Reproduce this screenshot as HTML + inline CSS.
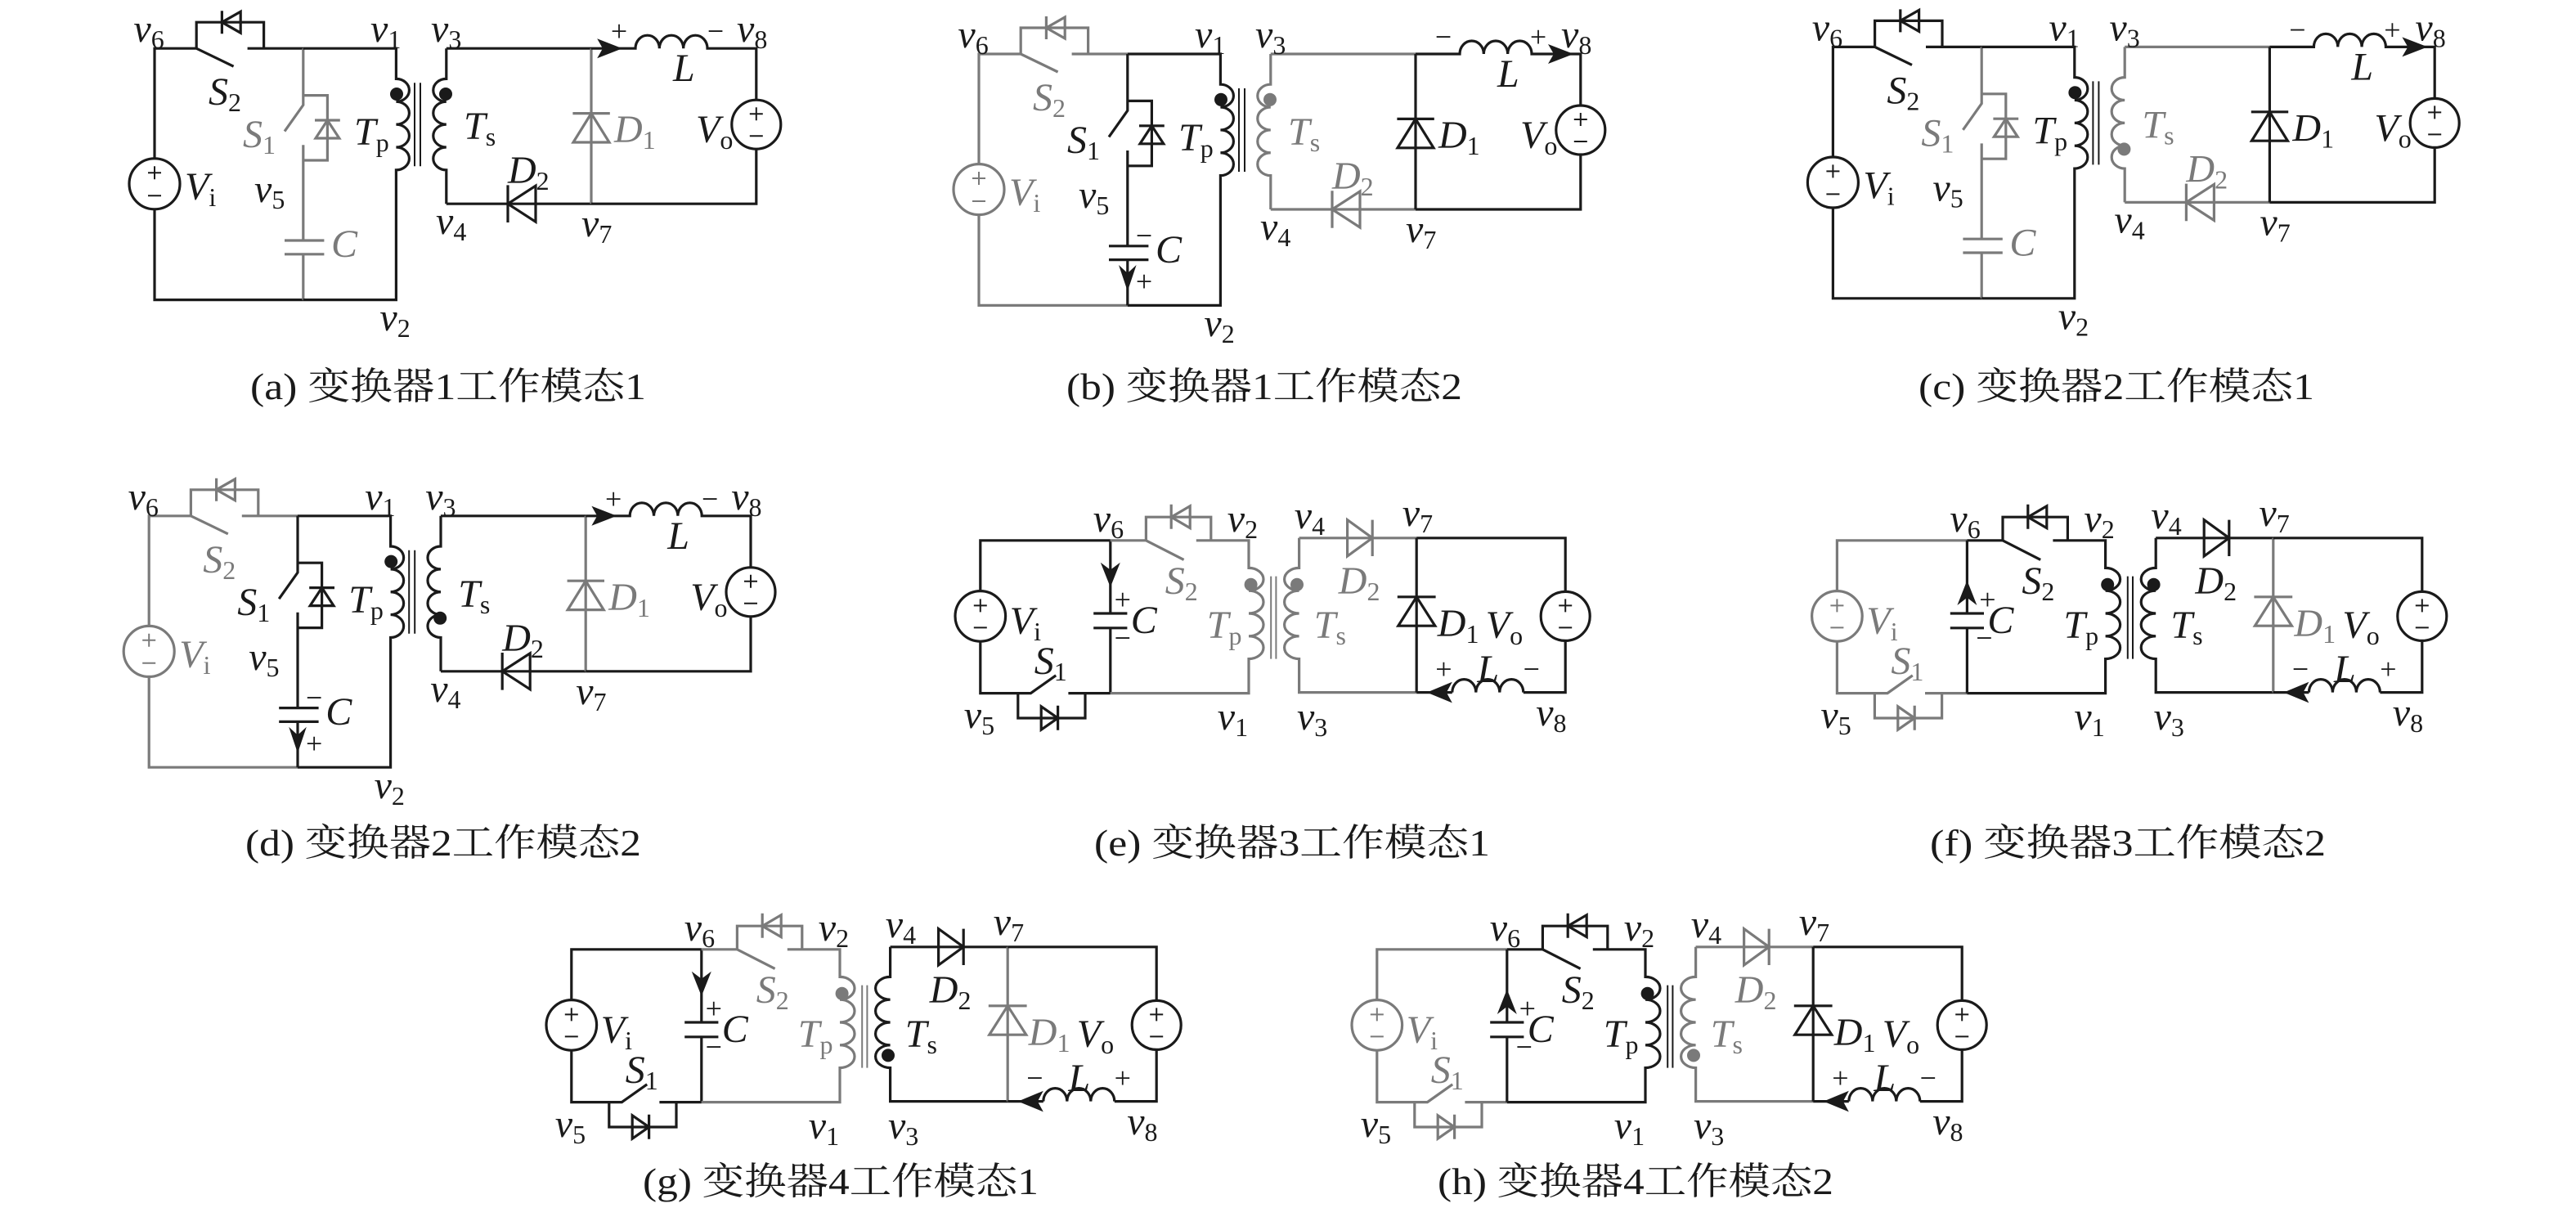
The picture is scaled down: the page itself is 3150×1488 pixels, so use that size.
<!DOCTYPE html>
<html><head><meta charset="utf-8">
<style>
html,body{margin:0;padding:0;background:#fff;}
svg{display:block;}
.k{stroke:#1a1a1a;fill:none;stroke-width:1.6;}
.g{stroke:#7a7a7a;fill:none;stroke-width:1.6;}
.kf{fill:#1a1a1a;stroke:none;}
.gf{fill:#7a7a7a;stroke:none;}
.th{stroke-width:1;}
text{font-family:"Liberation Serif",serif;font-style:italic;font-size:24px;fill:#1a1a1a;}
text.tg{fill:#7a7a7a;}
.s{font-style:normal;font-size:16px;}
text.sg{font-style:normal;font-size:18px;text-anchor:middle;}
text.cap{font-family:"Liberation Serif","Noto Serif CJK SC",serif;font-style:normal;font-size:23px;text-anchor:middle;}
</style></head><body>
<svg width="3150" height="1488" viewBox="0 0 1575 744" xmlns="http://www.w3.org/2000/svg">
<rect width="1575" height="744" fill="#fff"/>

<!-- ===== (a) ===== -->
<g transform="translate(94.5,29.6)">
<path class="k" d="M0,67.3V0H25.6L48.3,11M56.8,0H90.9M0,98.3V153.7H90.9M25.6,0V-16H66.8V0M41.2,-23V-9"/>
<polygon class="k" points="41.2,-16 52.6,-22.5 52.6,-9.5"/>
<circle class="k" cx="0" cy="82.8" r="15.5"/>
<path class="k th" d="M-4,76H4M0,72V80M-4,90H4"/>
<path class="g" d="M90.9,0V34.6L79.5,50.7M90.9,28.7H105.7V68.4H90.9M90.9,59V117.4M79.5,117.4H103.7M79.5,125.8H103.7M90.9,125.8V153.7M98,43.9H113.4"/>
<polygon class="g" points="105.7,43.9 98.5,54.9 112.9,54.9"/>
<path class="k" d="M90.9,0H147.7V18.6a8,6.96 0 0 1 0,13.93a8,6.96 0 0 1 0,13.93a8,6.96 0 0 1 0,13.93a8,6.96 0 0 1 0,13.93V153.7H90.9"/>
<path class="k th" d="M159,21V72M162.5,21V72"/>
<circle class="kf" cx="148" cy="27.9" r="4"/>
<path class="k" d="M178.4,0V18.6a8,6.96 0 0 0 0,13.93a8,6.96 0 0 0 0,13.93a8,6.96 0 0 0 0,13.93a8,6.96 0 0 0 0,13.93V95"/>
<circle class="kf" cx="178" cy="27.9" r="4"/>
<path class="k" d="M178.4,0H267"/>
<path class="k" d="M178.4,95H267M216,83.6V106.4"/><polygon class="k" points="216,95 233,84 233,106"/>
<path class="g" d="M267,0V95M255.7,39.7H278.4"/><polygon class="g" points="267,39.7 256,57.4 278,57.4"/>
<path class="k" d="M267,0H294a7.33,8 0 0 1 14.67,0a7.33,8 0 0 1 14.67,0a7.33,8 0 0 1 14.67,0H367.9V31.5M367.9,61.5V95H267"/>
<circle class="k" cx="367.9" cy="46.5" r="15"/>
<path class="k th" d="M363.9,40H371.9M367.9,36V44M363.9,53.5H371.9"/>
<polygon class="kf" points="286,0 270.6,-6 274,0 270.6,6"/>
<text x="-12.8" y="-4">v<tspan class="s" dy="4">6</tspan></text>
<text x="132" y="-4">v<tspan class="s" dy="4">1</tspan></text>
<text x="169" y="-4">v<tspan class="s" dy="4">3</tspan></text>
<text x="356" y="-4">v<tspan class="s" dy="4">8</tspan></text>
<text x="33" y="34.5">S<tspan class="s" dy="4">2</tspan></text>
<text class="tg" x="54" y="60.5">S<tspan class="s" dy="4">1</tspan></text>
<text x="122" y="59">T<tspan class="s" dy="4">p</tspan></text>
<text x="189" y="55.5">T<tspan class="s" dy="4">s</tspan></text>
<text x="18.5" y="92.5">V<tspan class="s" dy="4">i</tspan></text>
<text x="61" y="94">v<tspan class="s" dy="4">5</tspan></text>
<text class="tg" x="108" y="127.5">C</text>
<text x="216" y="82.5">D<tspan class="s" dy="4">2</tspan></text>
<text class="tg" x="281" y="57.5">D<tspan class="s" dy="4">1</tspan></text>
<text x="331" y="57.5">V<tspan class="s" dy="4">o</tspan></text>
<text x="317" y="20">L</text>
<text x="172" y="113.5">v<tspan class="s" dy="4">4</tspan></text>
<text x="261" y="115">v<tspan class="s" dy="4">7</tspan></text>
<text x="137.7" y="172.5">v<tspan class="s" dy="4">2</tspan></text>
<text class="sg" x="284" y="-4.5">+</text><text class="sg" x="343" y="-4.5">−</text>
</g>

<!-- ===== (b) ===== -->
<g transform="translate(598.5,33)">
<path class="g" d="M0,67.3V0H25.6L48.3,11M56.8,0H90.9M0,98.3V153.7H90.9M25.6,0V-16H66.8V0M41.2,-23V-9"/>
<polygon class="g" points="41.2,-16 52.6,-22.5 52.6,-9.5"/>
<circle class="g" cx="0" cy="82.8" r="15.5"/>
<path class="g th" d="M-4,76H4M0,72V80M-4,90H4"/>
<path class="k" d="M90.9,0V34.6L79.5,50.7M90.9,28.7H105.7V68.4H90.9M90.9,59V117.4M79.5,117.4H103.7M79.5,125.8H103.7M90.9,125.8V153.7M98,43.9H113.4"/>
<polygon class="k" points="105.7,43.9 98.5,54.9 112.9,54.9"/>
<polygon class="kf" points="85.5,129 90.9,145 96.3,129 90.9,134"/>
<path class="k" d="M90.9,0H147.7V18.6a8,6.96 0 0 1 0,13.93a8,6.96 0 0 1 0,13.93a8,6.96 0 0 1 0,13.93a8,6.96 0 0 1 0,13.93V153.7H90.9"/>
<path class="k th" d="M159,21V72M162.5,21V72"/>
<circle class="kf" cx="148" cy="27.9" r="4"/>
<path class="g" d="M178.4,0V18.6a8,6.96 0 0 0 0,13.93a8,6.96 0 0 0 0,13.93a8,6.96 0 0 0 0,13.93a8,6.96 0 0 0 0,13.93V95"/>
<circle class="gf" cx="178" cy="27.9" r="4"/>
<path class="g" d="M178.4,0H267"/>
<path class="g" d="M178.4,95H267M216,83.6V106.4"/><polygon class="g" points="216,95 233,84 233,106"/>
<path class="k" d="M267,0V95M255.7,39.7H278.4"/><polygon class="k" points="267,39.7 256,57.4 278,57.4"/>
<path class="k" d="M267,0H294a7.33,8 0 0 1 14.67,0a7.33,8 0 0 1 14.67,0a7.33,8 0 0 1 14.67,0H367.9V31.5M367.9,61.5V95H267"/>
<circle class="k" cx="367.9" cy="46.5" r="15"/>
<path class="k th" d="M363.9,40H371.9M367.9,36V44M363.9,53.5H371.9"/>
<polygon class="kf" points="363.6,0 348,-6 351.5,0 348,6"/>
<text x="-12.8" y="-4">v<tspan class="s" dy="4">6</tspan></text>
<text x="132" y="-4">v<tspan class="s" dy="4">1</tspan></text>
<text x="169" y="-4">v<tspan class="s" dy="4">3</tspan></text>
<text x="356" y="-4">v<tspan class="s" dy="4">8</tspan></text>
<text class="tg" x="33" y="34.5">S<tspan class="s" dy="4">2</tspan></text>
<text x="54" y="60.5">S<tspan class="s" dy="4">1</tspan></text>
<text x="122" y="59">T<tspan class="s" dy="4">p</tspan></text>
<text class="tg" x="189" y="55.5">T<tspan class="s" dy="4">s</tspan></text>
<text class="tg" x="18.5" y="92.5">V<tspan class="s" dy="4">i</tspan></text>
<text x="61" y="94">v<tspan class="s" dy="4">5</tspan></text>
<text x="108" y="127.5">C</text>
<text class="sg" x="101" y="117">−</text><text class="sg" x="101" y="145">+</text>
<text class="tg" x="216" y="82.5">D<tspan class="s" dy="4">2</tspan></text>
<text x="281" y="57.5">D<tspan class="s" dy="4">1</tspan></text>
<text x="331" y="57.5">V<tspan class="s" dy="4">o</tspan></text>
<text x="317" y="20">L</text>
<text x="172" y="113.5">v<tspan class="s" dy="4">4</tspan></text>
<text x="261" y="115">v<tspan class="s" dy="4">7</tspan></text>
<text x="137.7" y="172.5">v<tspan class="s" dy="4">2</tspan></text>
<text class="sg" x="284" y="-4.5">−</text><text class="sg" x="342" y="-4.5">+</text>
</g>

<!-- ===== (c) ===== -->
<g transform="translate(1120.7,28.7)">
<path class="k" d="M0,67.3V0H25.6L48.3,11M56.8,0H90.9M0,98.3V153.7H90.9M25.6,0V-16H66.8V0M41.2,-23V-9"/>
<polygon class="k" points="41.2,-16 52.6,-22.5 52.6,-9.5"/>
<circle class="k" cx="0" cy="82.8" r="15.5"/>
<path class="k th" d="M-4,76H4M0,72V80M-4,90H4"/>
<path class="g" d="M90.9,0V34.6L79.5,50.7M90.9,28.7H105.7V68.4H90.9M90.9,59V117.4M79.5,117.4H103.7M79.5,125.8H103.7M90.9,125.8V153.7M98,43.9H113.4"/>
<polygon class="g" points="105.7,43.9 98.5,54.9 112.9,54.9"/>
<path class="k" d="M90.9,0H147.7V18.6a8,6.96 0 0 1 0,13.93a8,6.96 0 0 1 0,13.93a8,6.96 0 0 1 0,13.93a8,6.96 0 0 1 0,13.93V153.7H90.9"/>
<path class="k th" d="M159,21V72M162.5,21V72"/>
<circle class="kf" cx="148" cy="27.9" r="4"/>
<path class="g" d="M178.4,0V18.6a8,6.96 0 0 0 0,13.93a8,6.96 0 0 0 0,13.93a8,6.96 0 0 0 0,13.93a8,6.96 0 0 0 0,13.93V95"/>
<circle class="gf" cx="178" cy="62.5" r="4"/>
<path class="g" d="M178.4,0H267"/>
<path class="g" d="M178.4,95H267M216,83.6V106.4"/><polygon class="g" points="216,95 233,84 233,106"/>
<path class="k" d="M267,0V95M255.7,39.7H278.4"/><polygon class="k" points="267,39.7 256,57.4 278,57.4"/>
<path class="k" d="M267,0H294a7.33,8 0 0 1 14.67,0a7.33,8 0 0 1 14.67,0a7.33,8 0 0 1 14.67,0H367.9V31.5M367.9,61.5V95H267"/>
<circle class="k" cx="367.9" cy="46.5" r="15"/>
<path class="k th" d="M363.9,40H371.9M367.9,36V44M363.9,53.5H371.9"/>
<polygon class="kf" points="363.6,0 348,-6 351.5,0 348,6"/>
<text x="-12.8" y="-4">v<tspan class="s" dy="4">6</tspan></text>
<text x="132" y="-4">v<tspan class="s" dy="4">1</tspan></text>
<text x="169" y="-4">v<tspan class="s" dy="4">3</tspan></text>
<text x="356" y="-4">v<tspan class="s" dy="4">8</tspan></text>
<text x="33" y="34.5">S<tspan class="s" dy="4">2</tspan></text>
<text class="tg" x="54" y="60.5">S<tspan class="s" dy="4">1</tspan></text>
<text x="122" y="59">T<tspan class="s" dy="4">p</tspan></text>
<text class="tg" x="189" y="55.5">T<tspan class="s" dy="4">s</tspan></text>
<text x="18.5" y="92.5">V<tspan class="s" dy="4">i</tspan></text>
<text x="61" y="94">v<tspan class="s" dy="4">5</tspan></text>
<text class="tg" x="108" y="127.5">C</text>
<text class="tg" x="216" y="82.5">D<tspan class="s" dy="4">2</tspan></text>
<text x="281" y="57.5">D<tspan class="s" dy="4">1</tspan></text>
<text x="331" y="57.5">V<tspan class="s" dy="4">o</tspan></text>
<text x="317" y="20">L</text>
<text x="172" y="113.5">v<tspan class="s" dy="4">4</tspan></text>
<text x="261" y="115">v<tspan class="s" dy="4">7</tspan></text>
<text x="137.7" y="172.5">v<tspan class="s" dy="4">2</tspan></text>
<text class="sg" x="284" y="-4.5">−</text><text class="sg" x="342" y="-4.5">+</text>
</g>

<!-- ===== (d) ===== -->
<g transform="translate(91.1,315.4)">
<path class="g" d="M0,67.3V0H25.6L48.3,11M56.8,0H90.9M0,98.3V153.7H90.9M25.6,0V-16H66.8V0M41.2,-23V-9"/>
<polygon class="g" points="41.2,-16 52.6,-22.5 52.6,-9.5"/>
<circle class="g" cx="0" cy="82.8" r="15.5"/>
<path class="g th" d="M-4,76H4M0,72V80M-4,90H4"/>
<path class="k" d="M90.9,0V34.6L79.5,50.7M90.9,28.7H105.7V68.4H90.9M90.9,59V117.4M79.5,117.4H103.7M79.5,125.8H103.7M90.9,125.8V153.7M98,43.9H113.4"/>
<polygon class="k" points="105.7,43.9 98.5,54.9 112.9,54.9"/>
<polygon class="kf" points="85.5,129 90.9,145 96.3,129 90.9,134"/>
<path class="k" d="M90.9,0H147.7V18.6a8,6.96 0 0 1 0,13.93a8,6.96 0 0 1 0,13.93a8,6.96 0 0 1 0,13.93a8,6.96 0 0 1 0,13.93V153.7H90.9"/>
<path class="k th" d="M159,21V72M162.5,21V72"/>
<circle class="kf" cx="148" cy="27.9" r="4"/>
<path class="k" d="M178.4,0V18.6a8,6.96 0 0 0 0,13.93a8,6.96 0 0 0 0,13.93a8,6.96 0 0 0 0,13.93a8,6.96 0 0 0 0,13.93V95"/>
<circle class="kf" cx="178" cy="62.5" r="4"/>
<path class="k" d="M178.4,0H267"/>
<path class="k" d="M178.4,95H267M216,83.6V106.4"/><polygon class="k" points="216,95 233,84 233,106"/>
<path class="g" d="M267,0V95M255.7,39.7H278.4"/><polygon class="g" points="267,39.7 256,57.4 278,57.4"/>
<path class="k" d="M267,0H294a7.33,8 0 0 1 14.67,0a7.33,8 0 0 1 14.67,0a7.33,8 0 0 1 14.67,0H367.9V31.5M367.9,61.5V95H267"/>
<circle class="k" cx="367.9" cy="46.5" r="15"/>
<path class="k th" d="M363.9,40H371.9M367.9,36V44M363.9,53.5H371.9"/>
<polygon class="kf" points="286,0 270.6,-6 274,0 270.6,6"/>
<text x="-12.8" y="-4">v<tspan class="s" dy="4">6</tspan></text>
<text x="132" y="-4">v<tspan class="s" dy="4">1</tspan></text>
<text x="169" y="-4">v<tspan class="s" dy="4">3</tspan></text>
<text x="356" y="-4">v<tspan class="s" dy="4">8</tspan></text>
<text class="tg" x="33" y="34.5">S<tspan class="s" dy="4">2</tspan></text>
<text x="54" y="60.5">S<tspan class="s" dy="4">1</tspan></text>
<text x="122" y="59">T<tspan class="s" dy="4">p</tspan></text>
<text x="189" y="55.5">T<tspan class="s" dy="4">s</tspan></text>
<text class="tg" x="18.5" y="92.5">V<tspan class="s" dy="4">i</tspan></text>
<text x="61" y="94">v<tspan class="s" dy="4">5</tspan></text>
<text x="108" y="127.5">C</text>
<text class="sg" x="101" y="117">−</text><text class="sg" x="101" y="145">+</text>
<text x="216" y="82.5">D<tspan class="s" dy="4">2</tspan></text>
<text class="tg" x="281" y="57.5">D<tspan class="s" dy="4">1</tspan></text>
<text x="331" y="57.5">V<tspan class="s" dy="4">o</tspan></text>
<text x="317" y="20">L</text>
<text x="172" y="113.5">v<tspan class="s" dy="4">4</tspan></text>
<text x="261" y="115">v<tspan class="s" dy="4">7</tspan></text>
<text x="137.7" y="172.5">v<tspan class="s" dy="4">2</tspan></text>
<text class="sg" x="284" y="-4.5">+</text><text class="sg" x="343" y="-4.5">−</text>
</g>

<!-- ===== (e) ===== -->
<g transform="translate(599.4,330.4)">
<path class="k" d="M0,30.9V0H79.5M0,61.7V93.4H30.8L46.2,82.5M53.8,93.4H79.5M23,93.4V108.6H64.1V93.4M47.4,101V116"/>
<polygon class="k" points="37.2,101.5 37.2,115.7 47.4,108.6"/>
<circle class="k" cx="0" cy="46.3" r="15.4"/>
<path class="k th" d="M-4,39.8H4M0,35.8V43.8M-4,53.3H4"/>
<path class="k" d="M79.5,0V44.6M79.5,53.5V93.4M69.2,44.6H89.8M69.2,53.5H89.8"/>
<polygon class="kf" points="73.5,13.5 79.5,28.6 85.5,13.5 79.5,18"/>
<path class="g" d="M79.5,0H101.3L124.4,11.8M132,0H164.1V16.8a9,6.95 0 0 1 0,13.9a9,6.95 0 0 1 0,13.9a9,6.95 0 0 1 0,13.9a9,6.95 0 0 1 0,13.9V93.4H79.5M101.3,0V-14.3H141V0M116.7,-22V-7"/>
<polygon class="g" points="116.7,-14.3 128.2,-21 128.2,-7.6"/>
<path class="g th" d="M177.7,21.9V72.4M180.8,21.9V72.4"/>
<circle class="gf" cx="165.4" cy="27" r="4"/>
<path class="g" d="M194.9,-1.5V16.8a9,6.95 0 0 0 0,13.9a9,6.95 0 0 0 0,13.9a9,6.95 0 0 0 0,13.9a9,6.95 0 0 0 0,13.9V92.9H266.7M194.9,-1.5H266.7M239.7,-12.6V9.6"/>
<polygon class="g" points="224.4,-12.6 224.4,9.6 239.7,-1.5"/>
<circle class="gf" cx="193.6" cy="27" r="4"/>
<path class="k" d="M266.7,-1.5V92.9M255,34.5H278.4"/><polygon class="k" points="266.7,34.5 255.5,52.2 278,52.2"/>
<path class="k" d="M266.7,-1.5H357.7V31.3M357.7,61.3V92.9H332M288.5,92.9a7.25,8 0 0 1 14.5,0a7.25,8 0 0 1 14.5,0a7.25,8 0 0 1 14.5,0M266.7,92.9H288.5"/>
<circle class="k" cx="357.7" cy="46.3" r="15"/>
<path class="k th" d="M353.7,39.8H361.7M357.7,35.8V43.8M353.7,53.3H361.7"/>
<polygon class="kf" points="273,92.9 288.5,86.5 285,92.9 288.5,99.3"/>
<text x="69" y="-5.5">v<tspan class="s" dy="4">6</tspan></text>
<text x="151" y="-5.5">v<tspan class="s" dy="4">2</tspan></text>
<text x="192" y="-7.5">v<tspan class="s" dy="4">4</tspan></text>
<text x="258" y="-9">v<tspan class="s" dy="4">7</tspan></text>
<text class="tg" x="113" y="32.5">S<tspan class="s" dy="4">2</tspan></text>
<text class="tg" x="138.5" y="59.5">T<tspan class="s" dy="4">p</tspan></text>
<text class="tg" x="204" y="59.5">T<tspan class="s" dy="4">s</tspan></text>
<text class="tg" x="219" y="32.5">D<tspan class="s" dy="4">2</tspan></text>
<text x="279.5" y="58.5">D<tspan class="s" dy="4">1</tspan></text>
<text x="309" y="59.5">V<tspan class="s" dy="4">o</tspan></text>
<text x="18" y="57">V<tspan class="s" dy="4">i</tspan></text>
<text x="92" y="56.5">C</text>
<text class="sg" x="87" y="42">+</text><text class="sg" x="87" y="65.5">−</text>
<text x="33" y="81.5">S<tspan class="s" dy="4">1</tspan></text>
<text x="303.8" y="86.5">L</text>
<text class="sg" x="283.3" y="84.5">+</text><text class="sg" x="337" y="84.5">−</text>
<text x="-10" y="114.5">v<tspan class="s" dy="4">5</tspan></text>
<text x="145" y="115.5">v<tspan class="s" dy="4">1</tspan></text>
<text x="193.6" y="115.5">v<tspan class="s" dy="4">3</tspan></text>
<text x="339.7" y="113">v<tspan class="s" dy="4">8</tspan></text>
</g>

<!-- ===== (f) ===== -->
<g transform="translate(1123.2,330.4)">
<path class="g" d="M0,30.9V0H79.5M0,61.7V93.4H30.8L46.2,82.5M53.8,93.4H79.5M23,93.4V108.6H64.1V93.4M47.4,101V116"/>
<polygon class="g" points="37.2,101.5 37.2,115.7 47.4,108.6"/>
<circle class="g" cx="0" cy="46.3" r="15.4"/>
<path class="g th" d="M-4,39.8H4M0,35.8V43.8M-4,53.3H4"/>
<path class="k" d="M79.5,0V44.6M79.5,53.5V93.4M69.2,44.6H89.8M69.2,53.5H89.8"/>
<polygon class="kf" points="73.5,39.6 79.5,24.4 85.5,39.6 79.5,35"/>
<path class="k" d="M79.5,0H101.3L124.4,11.8M132,0H164.1V16.8a9,6.95 0 0 1 0,13.9a9,6.95 0 0 1 0,13.9a9,6.95 0 0 1 0,13.9a9,6.95 0 0 1 0,13.9V93.4H79.5M101.3,0V-14.3H141V0M116.7,-22V-7"/>
<polygon class="k" points="116.7,-14.3 128.2,-21 128.2,-7.6"/>
<path class="k th" d="M177.7,21.9V72.4M180.8,21.9V72.4"/>
<circle class="kf" cx="165.4" cy="27" r="4"/>
<path class="k" d="M194.9,-1.5V16.8a9,6.95 0 0 0 0,13.9a9,6.95 0 0 0 0,13.9a9,6.95 0 0 0 0,13.9a9,6.95 0 0 0 0,13.9V92.9H266.7M194.9,-1.5H266.7M239.7,-12.6V9.6"/>
<polygon class="k" points="224.4,-12.6 224.4,9.6 239.7,-1.5"/>
<circle class="kf" cx="193.6" cy="27" r="4"/>
<path class="g" d="M266.7,-1.5V92.9M255,34.5H278.4"/><polygon class="g" points="266.7,34.5 255.5,52.2 278,52.2"/>
<path class="k" d="M266.7,-1.5H357.7V31.3M357.7,61.3V92.9H332M288.5,92.9a7.25,8 0 0 1 14.5,0a7.25,8 0 0 1 14.5,0a7.25,8 0 0 1 14.5,0M266.7,92.9H288.5"/>
<circle class="k" cx="357.7" cy="46.3" r="15"/>
<path class="k th" d="M353.7,39.8H361.7M357.7,35.8V43.8M353.7,53.3H361.7"/>
<polygon class="kf" points="273,92.9 288.5,86.5 285,92.9 288.5,99.3"/>
<text x="69" y="-5.5">v<tspan class="s" dy="4">6</tspan></text>
<text x="151" y="-5.5">v<tspan class="s" dy="4">2</tspan></text>
<text x="192" y="-7.5">v<tspan class="s" dy="4">4</tspan></text>
<text x="258" y="-9">v<tspan class="s" dy="4">7</tspan></text>
<text x="113" y="32.5">S<tspan class="s" dy="4">2</tspan></text>
<text x="138.5" y="59.5">T<tspan class="s" dy="4">p</tspan></text>
<text x="204" y="59.5">T<tspan class="s" dy="4">s</tspan></text>
<text x="219" y="32.5">D<tspan class="s" dy="4">2</tspan></text>
<text class="tg" x="279.5" y="58.5">D<tspan class="s" dy="4">1</tspan></text>
<text x="309" y="59.5">V<tspan class="s" dy="4">o</tspan></text>
<text class="tg" x="18" y="57">V<tspan class="s" dy="4">i</tspan></text>
<text x="92" y="56.5">C</text>
<text class="sg" x="92" y="42">+</text><text class="sg" x="90" y="65.5">−</text>
<text class="tg" x="33" y="81.5">S<tspan class="s" dy="4">1</tspan></text>
<text x="303.8" y="86.5">L</text>
<text class="sg" x="283.3" y="84.5">−</text><text class="sg" x="337" y="84.5">+</text>
<text x="-10" y="114.5">v<tspan class="s" dy="4">5</tspan></text>
<text x="145" y="115.5">v<tspan class="s" dy="4">1</tspan></text>
<text x="193.6" y="115.5">v<tspan class="s" dy="4">3</tspan></text>
<text x="339.7" y="113">v<tspan class="s" dy="4">8</tspan></text>
</g>

<!-- ===== (g) ===== -->
<g transform="translate(349.4,580.4)">
<path class="k" d="M0,30.9V0H79.5M0,61.7V93.4H30.8L46.2,82.5M53.8,93.4H79.5M23,93.4V108.6H64.1V93.4M47.4,101V116"/>
<polygon class="k" points="37.2,101.5 37.2,115.7 47.4,108.6"/>
<circle class="k" cx="0" cy="46.3" r="15.4"/>
<path class="k th" d="M-4,39.8H4M0,35.8V43.8M-4,53.3H4"/>
<path class="k" d="M79.5,0V44.6M79.5,53.5V93.4M69.2,44.6H89.8M69.2,53.5H89.8"/>
<polygon class="kf" points="73.5,13.5 79.5,28.6 85.5,13.5 79.5,18"/>
<path class="g" d="M79.5,0H101.3L124.4,11.8M132,0H164.1V16.8a9,6.95 0 0 1 0,13.9a9,6.95 0 0 1 0,13.9a9,6.95 0 0 1 0,13.9a9,6.95 0 0 1 0,13.9V93.4H79.5M101.3,0V-14.3H141V0M116.7,-22V-7"/>
<polygon class="g" points="116.7,-14.3 128.2,-21 128.2,-7.6"/>
<path class="g th" d="M177.7,21.9V72.4M180.8,21.9V72.4"/>
<circle class="gf" cx="165.4" cy="27" r="4"/>
<path class="k" d="M194.9,-1.5V16.8a9,6.95 0 0 0 0,13.9a9,6.95 0 0 0 0,13.9a9,6.95 0 0 0 0,13.9a9,6.95 0 0 0 0,13.9V92.9H266.7M194.9,-1.5H266.7M239.7,-12.6V9.6"/>
<polygon class="k" points="224.4,-12.6 224.4,9.6 239.7,-1.5"/>
<circle class="kf" cx="193.6" cy="64.8" r="4"/>
<path class="g" d="M266.7,-1.5V92.9M255,34.5H278.4"/><polygon class="g" points="266.7,34.5 255.5,52.2 278,52.2"/>
<path class="k" d="M266.7,-1.5H357.7V31.3M357.7,61.3V92.9H332M288.5,92.9a7.25,8 0 0 1 14.5,0a7.25,8 0 0 1 14.5,0a7.25,8 0 0 1 14.5,0M266.7,92.9H288.5"/>
<circle class="k" cx="357.7" cy="46.3" r="15"/>
<path class="k th" d="M353.7,39.8H361.7M357.7,35.8V43.8M353.7,53.3H361.7"/>
<polygon class="kf" points="273,92.9 288.5,86.5 285,92.9 288.5,99.3"/>
<text x="69" y="-5.5">v<tspan class="s" dy="4">6</tspan></text>
<text x="151" y="-5.5">v<tspan class="s" dy="4">2</tspan></text>
<text x="192" y="-7.5">v<tspan class="s" dy="4">4</tspan></text>
<text x="258" y="-9">v<tspan class="s" dy="4">7</tspan></text>
<text class="tg" x="113" y="32.5">S<tspan class="s" dy="4">2</tspan></text>
<text class="tg" x="138.5" y="59.5">T<tspan class="s" dy="4">p</tspan></text>
<text x="204" y="59.5">T<tspan class="s" dy="4">s</tspan></text>
<text x="219" y="32.5">D<tspan class="s" dy="4">2</tspan></text>
<text class="tg" x="279.5" y="58.5">D<tspan class="s" dy="4">1</tspan></text>
<text x="309" y="59.5">V<tspan class="s" dy="4">o</tspan></text>
<text x="18" y="57">V<tspan class="s" dy="4">i</tspan></text>
<text x="92" y="56.5">C</text>
<text class="sg" x="87" y="42">+</text><text class="sg" x="87" y="65.5">−</text>
<text x="33" y="81.5">S<tspan class="s" dy="4">1</tspan></text>
<text x="303.8" y="86.5">L</text>
<text class="sg" x="283.3" y="84.5">−</text><text class="sg" x="337" y="84.5">+</text>
<text x="-10" y="114.5">v<tspan class="s" dy="4">5</tspan></text>
<text x="145" y="115.5">v<tspan class="s" dy="4">1</tspan></text>
<text x="193.6" y="115.5">v<tspan class="s" dy="4">3</tspan></text>
<text x="339.7" y="113">v<tspan class="s" dy="4">8</tspan></text>
</g>

<!-- ===== (h) ===== -->
<g transform="translate(841.9,580.4)">
<path class="g" d="M0,30.9V0H79.5M0,61.7V93.4H30.8L46.2,82.5M53.8,93.4H79.5M23,93.4V108.6H64.1V93.4M47.4,101V116"/>
<polygon class="g" points="37.2,101.5 37.2,115.7 47.4,108.6"/>
<circle class="g" cx="0" cy="46.3" r="15.4"/>
<path class="g th" d="M-4,39.8H4M0,35.8V43.8M-4,53.3H4"/>
<path class="k" d="M79.5,0V44.6M79.5,53.5V93.4M69.2,44.6H89.8M69.2,53.5H89.8"/>
<polygon class="kf" points="73.5,39.6 79.5,24.4 85.5,39.6 79.5,35"/>
<path class="k" d="M79.5,0H101.3L124.4,11.8M132,0H164.1V16.8a9,6.95 0 0 1 0,13.9a9,6.95 0 0 1 0,13.9a9,6.95 0 0 1 0,13.9a9,6.95 0 0 1 0,13.9V93.4H79.5M101.3,0V-14.3H141V0M116.7,-22V-7"/>
<polygon class="k" points="116.7,-14.3 128.2,-21 128.2,-7.6"/>
<path class="k th" d="M177.7,21.9V72.4M180.8,21.9V72.4"/>
<circle class="kf" cx="165.4" cy="27" r="4"/>
<path class="g" d="M194.9,-1.5V16.8a9,6.95 0 0 0 0,13.9a9,6.95 0 0 0 0,13.9a9,6.95 0 0 0 0,13.9a9,6.95 0 0 0 0,13.9V92.9H266.7M194.9,-1.5H266.7M239.7,-12.6V9.6"/>
<polygon class="g" points="224.4,-12.6 224.4,9.6 239.7,-1.5"/>
<circle class="gf" cx="193.6" cy="64.8" r="4"/>
<path class="k" d="M266.7,-1.5V92.9M255,34.5H278.4"/><polygon class="k" points="266.7,34.5 255.5,52.2 278,52.2"/>
<path class="k" d="M266.7,-1.5H357.7V31.3M357.7,61.3V92.9H332M288.5,92.9a7.25,8 0 0 1 14.5,0a7.25,8 0 0 1 14.5,0a7.25,8 0 0 1 14.5,0M266.7,92.9H288.5"/>
<circle class="k" cx="357.7" cy="46.3" r="15"/>
<path class="k th" d="M353.7,39.8H361.7M357.7,35.8V43.8M353.7,53.3H361.7"/>
<polygon class="kf" points="273,92.9 288.5,86.5 285,92.9 288.5,99.3"/>
<text x="69" y="-5.5">v<tspan class="s" dy="4">6</tspan></text>
<text x="151" y="-5.5">v<tspan class="s" dy="4">2</tspan></text>
<text x="192" y="-7.5">v<tspan class="s" dy="4">4</tspan></text>
<text x="258" y="-9">v<tspan class="s" dy="4">7</tspan></text>
<text x="113" y="32.5">S<tspan class="s" dy="4">2</tspan></text>
<text x="138.5" y="59.5">T<tspan class="s" dy="4">p</tspan></text>
<text class="tg" x="204" y="59.5">T<tspan class="s" dy="4">s</tspan></text>
<text class="tg" x="219" y="32.5">D<tspan class="s" dy="4">2</tspan></text>
<text x="279.5" y="58.5">D<tspan class="s" dy="4">1</tspan></text>
<text x="309" y="59.5">V<tspan class="s" dy="4">o</tspan></text>
<text class="tg" x="18" y="57">V<tspan class="s" dy="4">i</tspan></text>
<text x="92" y="56.5">C</text>
<text class="sg" x="92" y="42">+</text><text class="sg" x="90" y="65.5">−</text>
<text class="tg" x="33" y="81.5">S<tspan class="s" dy="4">1</tspan></text>
<text x="303.8" y="86.5">L</text>
<text class="sg" x="283.3" y="84.5">+</text><text class="sg" x="337" y="84.5">−</text>
<text x="-10" y="114.5">v<tspan class="s" dy="4">5</tspan></text>
<text x="145" y="115.5">v<tspan class="s" dy="4">1</tspan></text>
<text x="193.6" y="115.5">v<tspan class="s" dy="4">3</tspan></text>
<text x="339.7" y="113">v<tspan class="s" dy="4">8</tspan></text>
</g>

<!-- captions -->
<text class="cap" x="274" y="244" textLength="242" lengthAdjust="spacingAndGlyphs">(a) 变换器1工作模态1</text>
<text class="cap" x="773" y="244" textLength="242" lengthAdjust="spacingAndGlyphs">(b) 变换器1工作模态2</text>
<text class="cap" x="1294" y="244" textLength="242" lengthAdjust="spacingAndGlyphs">(c) 变换器2工作模态1</text>
<text class="cap" x="271" y="523" textLength="242" lengthAdjust="spacingAndGlyphs">(d) 变换器2工作模态2</text>
<text class="cap" x="790" y="523" textLength="242" lengthAdjust="spacingAndGlyphs">(e) 变换器3工作模态1</text>
<text class="cap" x="1301" y="523" textLength="242" lengthAdjust="spacingAndGlyphs">(f) 变换器3工作模态2</text>
<text class="cap" x="514" y="730" textLength="242" lengthAdjust="spacingAndGlyphs">(g) 变换器4工作模态1</text>
<text class="cap" x="1000" y="730" textLength="242" lengthAdjust="spacingAndGlyphs">(h) 变换器4工作模态2</text>
</svg>
</body></html>
